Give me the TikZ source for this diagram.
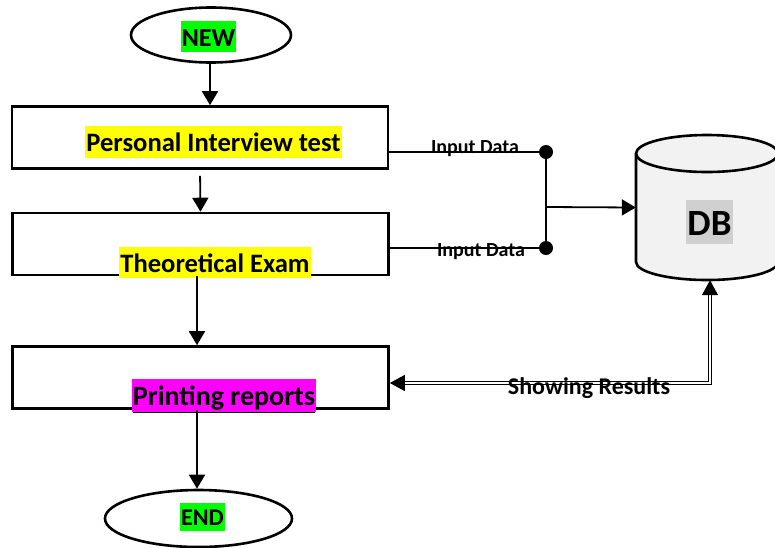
\documentclass[tikz,border=0pt]{standalone}
\usepackage{fontspec}
\setmainfont{Carlito}
\usepackage{xcolor}
\usetikzlibrary{positioning, arrows.meta, shapes.geometric}
\definecolor{fcInk}{HTML}{000000}
\definecolor{fcYellow}{HTML}{FFFF00}
\definecolor{fcGreen}{HTML}{00FF00}
\definecolor{fcPink}{HTML}{FF00FF}
\definecolor{fcGrayT}{HTML}{D0D0D0}
\definecolor{fcDbFill}{HTML}{F2F2F2}
\newcommand{\fs}[1]{\bfseries\fontsize{#1}{#1}\selectfont}
\tikzset{
  term/.style ={draw=fcInk, ellipse, line width=2.6pt, inner sep=0pt},
  stage/.style={draw=fcInk, rectangle, line width=2.6pt, minimum width=376pt, minimum height=62pt, inner sep=0pt, fill=white},
  hl/.style   ={text=fcInk, inner xsep=1pt, inner ysep=0pt, font=\fs{#1}, text height=#1*0.97pt, text depth=#1*0.23pt},
  lbl/.style  ={text=fcInk, inner sep=0pt, anchor=base, font=\fs{#1}},
  arr/.style  ={-{Triangle[length=14pt,width=16pt]}, line width=1.8pt, fcInk},
  flow/.style ={line width=1.8pt, fcInk},
  dbl/.style  ={{Triangle[length=15pt,width=16pt]}-{Triangle[length=15pt,width=16pt]}, double=white, double distance=2.2pt, line width=1.2pt, fcInk},
}

\begin{document}
\begin{tikzpicture}[x=1pt,y=-1pt]
\useasboundingbox (0,0) rectangle (775,547);
% ---- flow column ----
\node[term, minimum width=160pt, minimum height=55pt, fill=white] (new) at (211,35) {};
\node[hl=26, fill=fcGreen] (newt) at (208.5,36.5) {NEW};
\node[stage] (b1) at (200,137.5) {};
\node[hl=26.6, fill=fcYellow] (t1) at (213.5,142) {Personal Interview test};
\node[stage] (b2) at (200.5,244) {};
\node[hl=26.6, fill=fcYellow] (t2) at (215,262.5) {Theoretical Exam};
\node[stage] (b3) at (200.5,377.5) {};
\node[hl=28, fill=fcPink] (t3) at (224,395.5) {\underline{Printing reports}};
\node[term, minimum width=187pt, minimum height=57pt] (stop) at (198.5,518.5) {};
\node[hl=24, fill=fcGreen] (stopt) at (202.5,517) {END};

\draw[arr] (new.south -| 210,0) -- (b1.north -| 210,0);
\draw[arr, shorten <=6pt] (b1.south) -- (b2.north);
\draw[arr] ([xshift=-3.5pt]b2.south) -- ([xshift=-3.5pt]b3.north);
\draw[arr] ([xshift=-3.5pt]b3.south) -- (stop.north -| 197,0);

% ---- database ----
\fill[fcDbFill] (636,153.5) -- (636,262) arc[start angle=180, end angle=360, x radius=71pt, y radius=18pt] -- (778,153.5) -- cycle;
\draw[line width=2.6pt, fcInk] (636,153.5) -- (636,262) arc[start angle=180, end angle=360, x radius=71pt, y radius=18pt] -- (778,153.5);
\draw[line width=2.6pt, fcInk, fill=fcDbFill] (707,153.5) ellipse [x radius=71pt, y radius=18.5pt];
\node[minimum width=142pt, minimum height=145pt, inner sep=0pt] (dbshape) at (707,207.5) {};
\node[hl=37, fill=fcGrayT] (db) at (709.5,222) {DB};

% ---- input data ----
\coordinate (j1) at (546,152);
\coordinate (j2) at (546,248);
\coordinate (jm) at (547,207);
\draw[flow] ([yshift=-14.5pt]b1.east) -- (j1);
\draw[flow] ([yshift=-4pt]b2.east) -- (j2);
\draw[line width=1.4pt, fcInk] (j1) -- (j2);
\fill[fcInk] (j1) circle (7pt) (j2) circle (7pt);
\draw[arr] (jm) -- (dbshape.west);
\node[lbl=20] (in1) at (475,153) {Input Data};
\node[lbl=20] (in2) at (481,256) {Input Data};

% ---- results back to reports ----
\coordinate (sr) at (710,383);
\draw[dbl] (b3.east |- sr) -- (sr) -- (sr |- dbshape.south);
\node[lbl=24] (show) at (589,394) {Showing Results};
\end{tikzpicture}
\end{document}
